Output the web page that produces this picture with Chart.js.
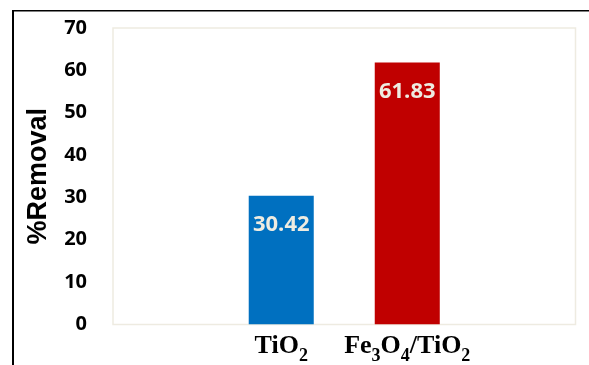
<!DOCTYPE html>
<html>
<head>
<meta charset="utf-8">
<title>%Removal</title>
<script src="https://cdn.jsdelivr.net/npm/chart.js@4/dist/chart.umd.min.js"></script>
<style>
  html, body { margin: 0; padding: 0; background: #ffffff; }
  #wrap { width: 589px; height: 365px; position: relative; }
</style>
</head>
<body>
<div id="wrap"><canvas id="c" width="589" height="365"></canvas></div>
<script>
// Catalyst samples and their measured removal (%)
const categories = ['TiO2', 'Fe3O4/TiO2'];
const removal = [30.42, 61.83];
const barColors = ['#0070C0', '#C00000'];
const yTicks = [0, 10, 20, 30, 40, 50, 60, 70];
const yTitle = '%Removal';

const labelFont = 'bold 22px "Open Sans", "Noto Sans", sans-serif';
const tickFont = { family: '"Open Sans", "Noto Sans", sans-serif', size: 20, weight: 'bold' };
const serif = '"Liberation Serif", "Times New Roman", serif';

// Black frame lines along the top and left edge of the figure
const framePlugin = {
  id: 'frame',
  beforeDraw(chart) {
    const ctx = chart.ctx;
    ctx.save();
    ctx.fillStyle = '#000000';
    ctx.fillRect(12, 10, 2, chart.height - 10);
    ctx.fillRect(12, 10, chart.width - 12, 1.5);
    ctx.restore();
  }
};

// Light outline around the plot area
const plotBorderPlugin = {
  id: 'plotBorder',
  beforeDatasetsDraw(chart) {
    const { ctx, chartArea: a } = chart;
    ctx.save();
    ctx.strokeStyle = '#EEEBE1';
    ctx.lineWidth = 1.5;
    ctx.strokeRect(a.left, a.top, a.right - a.left, a.bottom - a.top);
    ctx.restore();
  }
};

// Value printed inside the top of each bar
const valueLabelPlugin = {
  id: 'valueLabels',
  afterDatasetsDraw(chart) {
    const ctx = chart.ctx;
    const meta = chart.getDatasetMeta(0);
    ctx.save();
    ctx.font = labelFont;
    ctx.fillStyle = '#EEECE1';
    ctx.textAlign = 'center';
    ctx.textBaseline = 'middle';
    meta.data.forEach((bar, i) => {
      ctx.fillText(removal[i].toFixed(2), bar.x, bar.y + 29.5);
    });
    ctx.restore();
  }
};

// Category names as chemical formulas: digits are set as subscripts
function drawFormula(ctx, text, cx, baseline) {
  const parts = text.match(/\d+|\D+/g);
  const mainFont = 'bold 26px ' + serif;
  const subFont = 'bold 18px ' + serif;
  let total = 0;
  parts.forEach(p => {
    ctx.font = /\d/.test(p) ? subFont : mainFont;
    total += ctx.measureText(p).width;
  });
  let x = cx - total / 2;
  parts.forEach(p => {
    const sub = /\d/.test(p);
    ctx.font = sub ? subFont : mainFont;
    ctx.fillText(p, x, baseline + (sub ? 8 : 0));
    x += ctx.measureText(p).width;
  });
}

const categoryLabelPlugin = {
  id: 'categoryLabels',
  afterDraw(chart) {
    const ctx = chart.ctx;
    const xs = chart.scales.x;
    ctx.save();
    ctx.fillStyle = '#000000';
    ctx.textAlign = 'left';
    ctx.textBaseline = 'alphabetic';
    categories.forEach((c, i) => {
      drawFormula(ctx, c, xs.getPixelForValue(i + 1), xs.top + 28.5);
    });
    ctx.restore();
  }
};

new Chart(document.getElementById('c'), {
  type: 'bar',
  data: {
    datasets: [{
      data: categories.map((c, i) => ({ x: i + 1, y: removal[i] })),
      backgroundColor: barColors,
      borderWidth: 0,
      categoryPercentage: 1,
      barPercentage: 0.516
    }]
  },
  options: {
    responsive: false,
    animation: false,
    devicePixelRatio: 1,
    layout: { padding: { top: 28, right: 13.5, bottom: 0.5, left: 0 } },
    plugins: { legend: { display: false }, tooltip: { enabled: false } },
    scales: {
      x: {
        type: 'linear',
        offset: false,
        min: -0.335,
        max: 3.335,
        grid: { display: false, offset: false },
        border: { display: false },
        ticks: { display: false },
        afterBuildTicks(scale) {
          scale.ticks = categories.map((c, i) => ({ value: i + 1 }));
        },
        afterFit(scale) {
          scale.height = 40;
          scale.paddingLeft = 0;
          scale.paddingRight = 0;
        }
      },
      y: {
        min: yTicks[0],
        max: yTicks[yTicks.length - 1],
        grid: { display: false, drawTicks: false },
        border: { display: false },
        ticks: {
          stepSize: yTicks[1] - yTicks[0],
          padding: 26,
          color: '#000000',
          font: tickFont
        },
        title: {
          display: true,
          text: yTitle,
          color: '#000000',
          font: { family: '"Liberation Sans", Arial, sans-serif', size: 27, weight: 'bold' },
          padding: { top: 22, bottom: 0 }
        },
        afterFit(scale) {
          scale.width = 113;
          scale.paddingTop = 0;
          scale.paddingBottom = 0;
        }
      }
    }
  },
  plugins: [framePlugin, plotBorderPlugin, valueLabelPlugin, categoryLabelPlugin]
});
</script>
</body>
</html>
